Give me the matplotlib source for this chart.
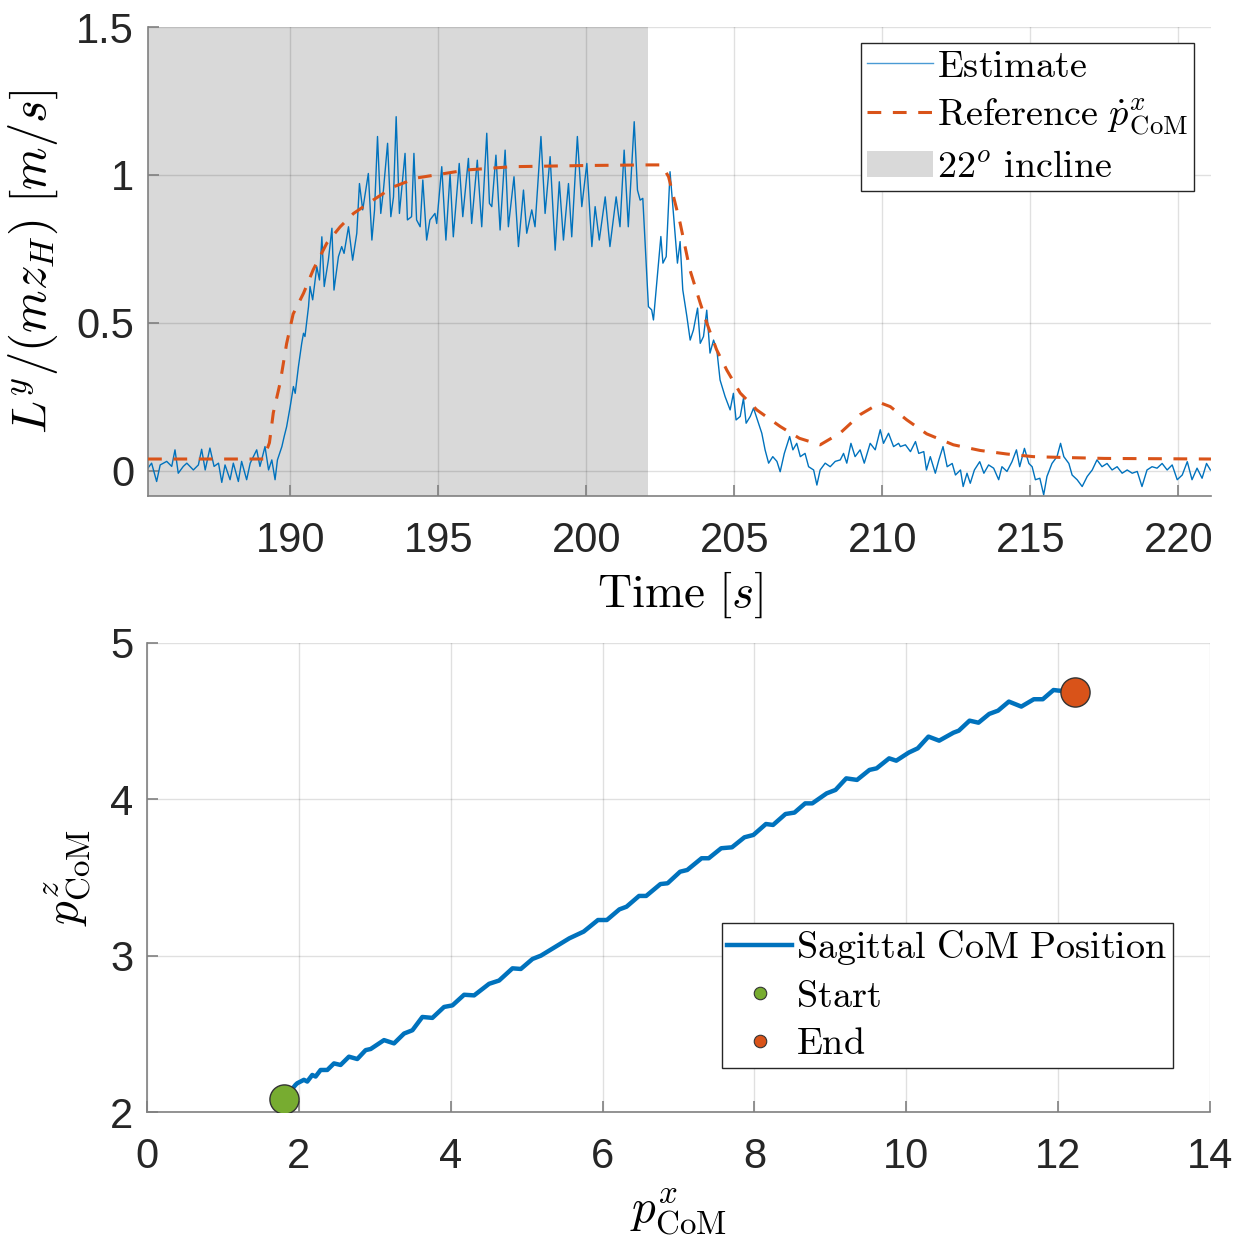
import matplotlib
matplotlib.use("Agg")
import matplotlib.pyplot as plt
from matplotlib.lines import Line2D
from matplotlib.patches import Patch

plt.rcParams['mathtext.fontset'] = 'cm'
plt.rcParams['font.family'] = ['Liberation Sans', 'DejaVu Sans']

BLUE = '#0072BD'
ORANGE = '#D95319'
GREEN = '#77AC30'

# ---- top panel: estimate vs reference ----
incline_start, incline_end = 185.2, 202.1

est_t = [185.15, 185.32, 185.49, 185.61, 185.83, 186.00, 186.11, 186.22, 186.39, 186.51,
         186.73, 186.90, 187.01, 187.13, 187.29, 187.43, 187.58, 187.69, 187.80, 187.97,
         188.08, 188.25, 188.36, 188.53, 188.65, 188.87, 188.98, 189.15, 189.27, 189.38,
         189.49, 189.57, 189.72, 189.80, 189.88, 190.00, 190.11, 190.17, 190.28, 190.39,
         190.45, 190.50, 190.62, 190.67, 190.76, 190.90, 190.99, 191.07, 191.15, 191.29,
         191.41, 191.48, 191.63, 191.74, 191.82, 191.97, 192.11, 192.25, 192.34, 192.45,
         192.64, 192.76, 192.85, 192.95, 193.06, 193.15, 193.29, 193.40, 193.49, 193.58,
         193.69, 193.88, 193.96, 194.10, 194.18, 194.27, 194.39, 194.48, 194.61, 194.72,
         194.89, 194.95, 195.12, 195.26, 195.40, 195.51, 195.71, 195.83, 196.02, 196.13,
         196.32, 196.47, 196.64, 196.73, 196.81, 196.95, 197.09, 197.26, 197.37, 197.56,
         197.71, 197.88, 197.99, 198.16, 198.27, 198.47, 198.61, 198.78, 198.95, 199.09,
         199.23, 199.40, 199.51, 199.70, 199.85, 200.02, 200.19, 200.30, 200.44, 200.64,
         200.80, 201.01, 201.14, 201.28, 201.42, 201.62, 201.73, 201.82, 201.91, 202.10,
         202.21, 202.27, 202.33, 202.44, 202.52, 202.59, 202.70, 202.83, 203.00, 203.08,
         203.17, 203.26, 203.40, 203.51, 203.62, 203.76, 203.85, 203.96, 204.07, 204.18,
         204.30, 204.41, 204.52, 204.69, 204.86, 204.97, 205.06, 205.20, 205.31, 205.40,
         205.54, 205.65, 205.78, 205.93, 206.04, 206.16, 206.30, 206.44, 206.55, 206.69,
         206.87, 206.98, 207.11, 207.23, 207.39, 207.51, 207.68, 207.79, 207.90, 208.07,
         208.24, 208.41, 208.58, 208.69, 208.80, 208.94, 209.08, 209.25, 209.39, 209.59,
         209.76, 209.93, 210.04, 210.21, 210.38, 210.55, 210.61, 210.78, 210.95, 211.12,
         211.23, 211.40, 211.49, 211.62, 211.79, 211.91, 212.05, 212.19, 212.36, 212.47,
         212.64, 212.73, 212.86, 212.97, 213.11, 213.29, 213.43, 213.59, 213.76, 213.93,
         214.04, 214.21, 214.38, 214.53, 214.64, 214.80, 214.95, 215.06, 215.17, 215.32,
         215.45, 215.56, 215.73, 215.90, 216.02, 216.13, 216.30, 216.41, 216.58, 216.75,
         216.92, 217.09, 217.25, 217.42, 217.59, 217.76, 217.93, 218.10, 218.27, 218.44,
         218.61, 218.77, 218.94, 219.11, 219.28, 219.45, 219.62, 219.79, 219.96, 220.13,
         220.30, 220.46, 220.63, 220.80, 220.95, 221.08]
est_v = [0.003, 0.026, -0.036, 0.020, 0.032, 0.015, 0.071, -0.008, 0.015, 0.026,
         0.003, 0.020, 0.073, 0.003, 0.077, 0.015, 0.026, -0.039, 0.020, -0.030,
         0.026, -0.036, 0.032, -0.030, 0.026, 0.071, 0.015, 0.082, 0.003, 0.037,
         -0.030, 0.037, 0.082, 0.117, 0.149, 0.217, 0.285, 0.262, 0.353, 0.431,
         0.465, 0.454, 0.555, 0.623, 0.578, 0.690, 0.645, 0.791, 0.623, 0.712,
         0.820, 0.611, 0.724, 0.758, 0.735, 0.825, 0.712, 0.803, 0.971, 0.882,
         1.005, 0.780, 0.882, 1.130, 0.870, 0.949, 1.107, 0.859, 0.926, 1.197,
         0.870, 1.073, 0.848, 0.859, 1.073, 0.848, 0.825, 0.983, 0.780, 0.848,
         0.870, 0.836, 1.028, 0.780, 1.005, 0.791, 1.039, 0.859, 1.056, 0.836,
         1.050, 0.825, 1.141, 0.904, 0.893, 1.067, 0.814, 1.084, 0.825, 0.994,
         0.758, 0.949, 0.803, 0.882, 0.825, 1.130, 0.870, 1.062, 0.746, 0.977,
         0.780, 0.971, 0.791, 1.130, 0.893, 1.039, 0.758, 0.893, 0.780, 0.926,
         0.758, 0.926, 0.825, 1.084, 0.825, 1.180, 0.949, 0.915, 0.921, 0.555,
         0.544, 0.510, 0.578, 0.702, 0.792, 0.702, 0.724, 1.011, 0.803, 0.702,
         0.775, 0.612, 0.521, 0.442, 0.476, 0.550, 0.431, 0.454, 0.543, 0.398,
         0.442, 0.409, 0.307, 0.251, 0.206, 0.262, 0.172, 0.184, 0.245, 0.161,
         0.184, 0.212, 0.172, 0.127, 0.071, 0.026, 0.048, 0.032, -0.003, 0.059,
         0.116, 0.071, 0.093, 0.048, 0.059, 0.014, 0.003, -0.048, 0.003, 0.026,
         0.014, 0.032, 0.037, 0.059, 0.026, 0.093, 0.048, 0.071, 0.026, 0.093,
         0.071, 0.139, 0.093, 0.127, 0.082, 0.093, 0.082, 0.088, 0.065, 0.099,
         0.059, 0.065, 0.003, 0.048, -0.008, 0.037, 0.082, 0.014, 0.025, -0.014,
         0.003, -0.053, -0.008, -0.042, 0.003, 0.031, -0.008, 0.020, 0.009, -0.030,
         0.014, -0.002, 0.031, 0.071, 0.014, 0.076, 0.025, 0.014, -0.030, -0.025,
         -0.081, -0.019, 0.025, 0.048, 0.093, 0.048, 0.025, -0.014, -0.030, -0.053,
         -0.019, 0.003, 0.037, 0.014, 0.025, 0.003, 0.014, -0.008, 0.003, -0.008,
         -0.002, -0.053, 0.003, 0.014, 0.009, 0.025, 0.003, 0.020, -0.030, -0.014,
         0.031, -0.030, 0.009, -0.025, 0.025, 0.003]

ref_t = [185.2, 189.1, 189.3, 189.43, 189.66, 189.88, 190.1, 190.45, 190.78, 191.24,
         191.69, 192.14, 192.8, 193.49, 194.28, 195.97, 197.5, 200.0, 202.1, 202.55,
         202.78, 203.17, 203.5, 203.85, 204.07, 204.4, 204.75, 205.2, 205.76, 206.55,
         207.2, 207.9, 208.58, 209.25, 209.93, 210.27, 210.83, 211.5, 212.4, 213.3,
         214.2, 215.1, 216.2, 217.5, 221.1]
ref_v = [0.04, 0.04, 0.095, 0.196, 0.297, 0.43, 0.53, 0.60, 0.68, 0.77,
         0.825, 0.87, 0.915, 0.96, 0.99, 1.017, 1.028, 1.032, 1.034, 1.034,
         0.994, 0.838, 0.68, 0.567, 0.50, 0.41, 0.34, 0.263, 0.206, 0.15,
         0.11, 0.088, 0.128, 0.19, 0.23, 0.217, 0.172, 0.125, 0.088, 0.069,
         0.057, 0.048, 0.045, 0.042, 0.04]

# ---- bottom panel: sagittal CoM path ----
com_x = [1.805, 1.956, 1.978, 2.066, 2.11, 2.176, 2.22, 2.286, 2.374, 2.462, 2.549,
         2.659, 2.769, 2.879, 2.945, 3.121, 3.253, 3.385, 3.495, 3.626, 3.758,
         3.912, 4.022, 4.176, 4.308, 4.505, 4.637, 4.813, 4.923, 5.077, 5.187,
         5.562, 5.751, 5.939, 6.056, 6.221, 6.315, 6.48, 6.574, 6.762, 6.856,
         7.021, 7.115, 7.304, 7.398, 7.562, 7.704, 7.868, 7.986, 8.151, 8.245,
         8.409, 8.527, 8.668, 8.762, 8.951, 9.068, 9.209, 9.351, 9.515, 9.609,
         9.774, 9.868, 10.033, 10.151, 10.292, 10.433, 10.621, 10.692, 10.833, 10.951,
         11.092, 11.209, 11.351, 11.515, 11.68, 11.798, 11.939, 12.009, 12.221]
com_y = [2.083, 2.174, 2.184, 2.206, 2.195, 2.237, 2.227, 2.269, 2.269, 2.311, 2.301,
         2.354, 2.339, 2.396, 2.403, 2.460, 2.439, 2.502, 2.523, 2.608, 2.602,
         2.672, 2.682, 2.75, 2.746, 2.82, 2.841, 2.919, 2.915, 2.979, 3.0,
         3.111, 3.154, 3.228, 3.228, 3.296, 3.313, 3.382, 3.382, 3.458, 3.463,
         3.537, 3.548, 3.623, 3.623, 3.687, 3.693, 3.757, 3.772, 3.842, 3.836,
         3.906, 3.915, 3.974, 3.974, 4.038, 4.06, 4.134, 4.124, 4.188, 4.198,
         4.262, 4.247, 4.299, 4.326, 4.401, 4.375, 4.426, 4.439, 4.503, 4.49,
         4.546, 4.567, 4.625, 4.593, 4.64, 4.64, 4.699, 4.695, 4.689]

fig = plt.figure(figsize=(12.41, 12.40), dpi=100)
ax1 = fig.add_axes([0.1193, 0.600, 0.8565, 0.3782])
ax2 = fig.add_axes([0.1185, 0.1032, 0.8565, 0.3783])


def style(ax):
    for s in ['top', 'right']:
        ax.spines[s].set_visible(False)
    for s in ['left', 'bottom']:
        ax.spines[s].set_color('#808080')
        ax.spines[s].set_linewidth(1.2)
    ax.tick_params(direction='in', length=8, width=1.2, color='#808080',
                   labelsize=30, labelcolor='#262626')
    ax.tick_params(axis='x', pad=18)
    ax.tick_params(axis='y', pad=10)
    ax.set_axisbelow('line')
    ax.grid(True, color='k', alpha=0.12, linewidth=1.0)


# top
ax1.axvspan(incline_start, incline_end, color='#d9d9d9', lw=0, zorder=1)
ax1.plot(est_t, est_v, color=BLUE, lw=1.0, zorder=2)
ax1.plot(ref_t, ref_v, color=ORANGE, lw=2.2, dashes=(4.5, 3.8), zorder=3)
ax1.set_xlim(185.2, 221.1)
ax1.set_ylim(-0.085, 1.5)
ax1.set_xticks([190, 195, 200, 205, 210, 215, 220])
ax1.set_yticks([0, 0.5, 1, 1.5])
ax1.set_yticklabels(['0', '0.5', '1', '1.5'])
style(ax1)
ax1.set_xlabel(r'$\mathrm{Time}\ [s]$', fontsize=34, labelpad=6)
ax1.set_ylabel(r'$L^y/(m z_H)\ [m/s]$', fontsize=35, labelpad=12)

h1 = [Line2D([], [], color='#4a9ad4', lw=1.0),
      Line2D([], [], color=ORANGE, lw=2.2, dashes=(4.5, 3.8)),
      Patch(facecolor='#d9d9d9', edgecolor='none')]
l1 = [r'$\mathrm{Estimate}$', r'$\mathrm{Reference}\ \dot{p}^x_{\mathrm{CoM}}$',
      r'$22^o\ \mathrm{incline}$']
leg1 = ax1.legend(h1, l1, loc='upper right', bbox_to_anchor=(0.984, 0.966),
                  borderaxespad=0, fontsize=27.5, fancybox=False, framealpha=1,
                  edgecolor='#262626', handlelength=1.75, handletextpad=0.1,
                  labelspacing=0.3, borderpad=0.15)
leg1.get_frame().set_linewidth(1.0)

# bottom
ax2.plot(com_x, com_y, color=BLUE, lw=3.2, zorder=3)
ax2.plot(com_x[0], com_y[0], 'o', ms=21, mfc=GREEN, mec='#333333', mew=1.0, zorder=4)
ax2.plot(com_x[-1], com_y[-1], 'o', ms=21, mfc=ORANGE, mec='#333333', mew=1.0, zorder=4)
ax2.set_xlim(0, 14)
ax2.set_ylim(2, 5)
ax2.set_xticks(range(0, 15, 2))
ax2.set_yticks([2, 3, 4, 5])
style(ax2)
ax2.set_xlabel(r'$p^x_{\mathrm{CoM}}$', fontsize=34, labelpad=8)
ax2.set_ylabel(r'$p^z_{\mathrm{CoM}}$', fontsize=34, labelpad=12)

h2 = [Line2D([], [], color=BLUE, lw=3.2),
      Line2D([], [], ls='none', marker='o', ms=9, mfc=GREEN, mec='#333333', mew=0.8),
      Line2D([], [], ls='none', marker='o', ms=9, mfc=ORANGE, mec='#333333', mew=0.8)]
l2 = [r'$\mathrm{Sagittal\ CoM\ Position}$', r'$\mathrm{Start}$', r'$\mathrm{End}$']
leg2 = ax2.legend(h2, l2, loc='lower right', bbox_to_anchor=(0.965, 0.094),
                  borderaxespad=0, fontsize=27.5, fancybox=False, framealpha=1,
                  edgecolor='#262626', handlelength=1.7, handletextpad=0.1,
                  labelspacing=0.3, borderpad=0.15)
leg2.get_frame().set_linewidth(1.0)

fig.savefig('out.png', dpi=100)
